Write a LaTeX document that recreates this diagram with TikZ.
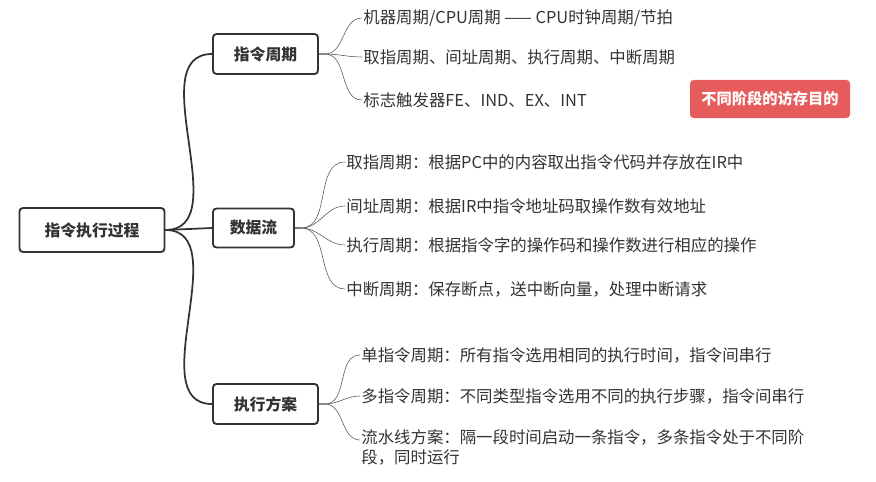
\documentclass[tikz,border=0pt]{standalone}
\usepackage{fontspec}
\setmainfont{Noto Sans CJK SC}
\usetikzlibrary{positioning}
\definecolor{ink}{HTML}{333333}
\definecolor{badge}{HTML}{E65C5C}

\begin{document}
\begin{tikzpicture}[
    x=0.03cm, y=-0.03cm,
    every node/.style={font=\fontsize{14}{17}\selectfont, text=ink},
    topic/.style={rectangle, draw=ink, line width=1.6pt, rounded corners=3pt, inner sep=0pt, font=\fontsize{13.5}{16}\selectfont\bfseries},
    leaf/.style={anchor=west, inner sep=1pt, align=left},
    trunk/.style={draw=ink, line width=1.5pt},
    twig/.style={draw=ink!80, line width=0.5pt},
]
    \useasboundingbox (0,0) rectangle (876,482);

    % root and branches
    \node[topic, minimum width=4.35cm, minimum height=1.32cm] (root) at (92,230) {指令执行过程};
    \node[topic, minimum width=3.15cm, minimum height=1.2cm] (cycle) at (265.5,54) {指令周期};
    \node[topic, minimum width=2.43cm, minimum height=1.17cm] (flow) at (253.5,228) {数据流};
    \node[topic, minimum width=3.15cm, minimum height=1.2cm] (plan) at (265.5,404) {执行方案};

    \draw[trunk] (root.east) to[out=0, in=180] (cycle.west);
    \draw[trunk] (root.east) -- (flow.west);
    \draw[trunk] (root.east) to[out=0, in=180] (plan.west);

    % leaves of 指令周期
    \node[leaf] (c1) at (362,18) {机器周期/CPU周期 —— CPU时钟周期/节拍};
    \node[leaf] (c2) at (362,57) {取指周期、间址周期、执行周期、中断周期};
    \node[leaf] (c3) at (362,100) {标志触发器FE、IND、EX、INT};
    \foreach \n in {c1,c2,c3}
        \draw[twig] (cycle.east) -- ++(6,0) to[out=0, in=180] (\n.west);

    % leaves of 数据流
    \node[leaf] (f1) at (345,162) {取指周期：根据PC中的内容取出指令代码并存放在IR中};
    \node[leaf] (f2) at (345,206) {间址周期：根据IR中指令地址码取操作数有效地址};
    \node[leaf] (f3) at (345,245) {执行周期：根据指令字的操作码和操作数进行相应的操作};
    \node[leaf] (f4) at (345,289) {中断周期：保存断点，送中断向量，处理中断请求};
    \foreach \n in {f1,f2,f3,f4}
        \draw[twig] (flow.east) -- ++(6,0) to[out=0, in=180] (\n.west);

    % leaves of 执行方案
    \node[leaf] (p1) at (360,355) {单指令周期：所有指令选用相同的执行时间，指令间串行};
    \node[leaf] (p2) at (360,396) {多指令周期：不同类型指令选用不同的执行步骤，指令间串行};
    \node[leaf, anchor=north west] (p3) at (360,428) {流水线方案：隔一段时间启动一条指令，多条指令处于不同阶\\段，同时运行};
    \coordinate (p3in) at (p3.north west |- 0,440);
    \foreach \n in {p1,p2}
        \draw[twig] (plan.east) -- ++(6,0) to[out=0, in=180] (\n.west);
    \draw[twig] (plan.east) -- ++(6,0) to[out=0, in=180] (p3in);

    % note
    \node[fill=badge, rounded corners=3pt, minimum width=4.8cm, minimum height=1.14cm, text=white, font=\fontsize{13}{16}\selectfont\bfseries] (note) at (770,99) {不同阶段的访存目的};
\end{tikzpicture}
\end{document}
